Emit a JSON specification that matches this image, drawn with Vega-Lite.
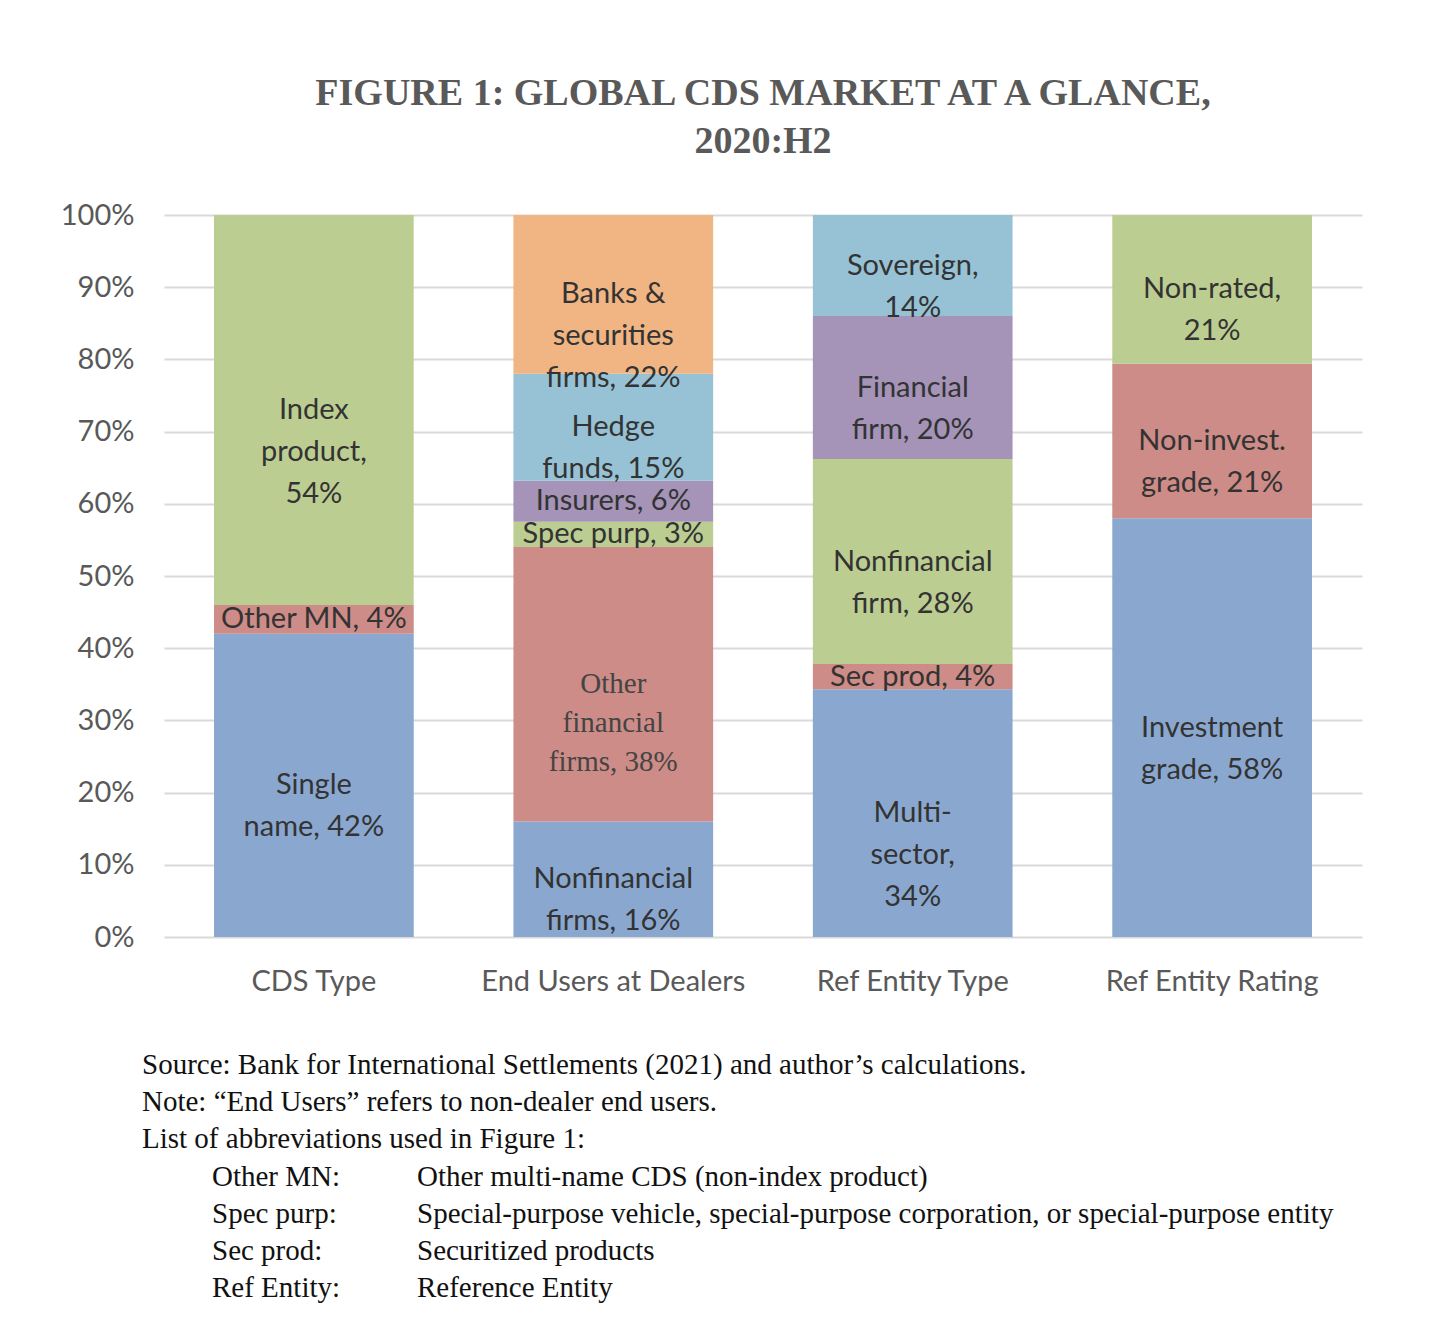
{
"$schema":"https://vega.github.io/schema/vega-lite/v6.json",
"padding":{"left":60,"top":75,"right":30,"bottom":10},
"config":{"view":{"stroke":null},"font":"Lato"},
"vconcat":[
{
"width":1198,"height":722,
"title":{"text":["FIGURE 1: GLOBAL CDS MARKET AT A GLANCE,","2020:H2"],"font":"Liberation Serif","fontSize":38,"fontWeight":"bold","color":"#595959","lineHeight":48,"offset":40,"anchor":"middle","dx":0},
"data":{"values":[
{"cat":"CDS Type","lo":0,"hi":42,"kind":"blue","label":["Single","name, 42%"],"serif":false},
{"cat":"CDS Type","lo":42,"hi":46,"kind":"red","label":["Other  MN, 4%"],"serif":false},
{"cat":"CDS Type","lo":46,"hi":100,"kind":"green","label":["Index","product,","54%"],"serif":false},
{"cat":"End Users at Dealers","lo":0,"hi":16,"kind":"blue","label":["Nonfinancial","firms, 16%"],"serif":false},
{"cat":"End Users at Dealers","lo":16,"hi":54,"kind":"red","label":["Other","financial","firms, 38%"],"serif":true},
{"cat":"End Users at Dealers","lo":54,"hi":57.5,"kind":"green","label":["Spec purp, 3%"],"serif":false},
{"cat":"End Users at Dealers","lo":57.5,"hi":63.2,"kind":"purple","label":["Insurers, 6%"],"serif":false},
{"cat":"End Users at Dealers","lo":63.2,"hi":78,"kind":"teal","label":["Hedge","funds, 15%"],"serif":false},
{"cat":"End Users at Dealers","lo":78,"hi":100,"kind":"orange","label":["Banks &","securities","firms, 22%"],"serif":false},
{"cat":"Ref Entity Type","lo":0,"hi":34.3,"kind":"blue","label":["Multi-","sector,","34%"],"serif":false},
{"cat":"Ref Entity Type","lo":34.3,"hi":37.8,"kind":"red","label":["Sec prod, 4%"],"serif":false},
{"cat":"Ref Entity Type","lo":37.8,"hi":66.2,"kind":"green","label":["Nonfinancial","firm, 28%"],"serif":false},
{"cat":"Ref Entity Type","lo":66.2,"hi":86,"kind":"purple","label":["Financial","firm, 20%"],"serif":false},
{"cat":"Ref Entity Type","lo":86,"hi":100,"kind":"teal","label":["Sovereign,","14%"],"serif":false},
{"cat":"Ref Entity Rating","lo":0,"hi":58,"kind":"blue","label":["Investment","grade, 58%"],"serif":false},
{"cat":"Ref Entity Rating","lo":58,"hi":79.4,"kind":"red","label":["Non-invest.","grade, 21%"],"serif":false},
{"cat":"Ref Entity Rating","lo":79.4,"hi":100,"kind":"green","label":["Non-rated,","21%"],"serif":false}
]},
"transform":[{"calculate":"(datum.lo+datum.hi)/2","as":"mid"}],
"encoding":{"x":{"field":"cat","type":"nominal","sort":null,"scale":{"paddingInner":0.333,"paddingOuter":0.167},
  "axis":{"title":null,"labelAngle":0,"labelFontSize":29,"labelColor":"#595959","labelPadding":30,"labelLimit":0,"ticks":false,"domain":false}}},
"layer":[
{"mark":{"type":"bar"},
 "encoding":{"y":{"field":"lo","type":"quantitative","scale":{"domain":[0,100]},
   "axis":{"title":null,"values":[0,10,20,30,40,50,60,70,80,90,100],"labelExpr":"datum.value+'%'","labelFontSize":29,"labelColor":"#595959","labelPadding":30,"ticks":false,"domain":false,"gridColor":"#d9d9d9","gridWidth":2}},
  "y2":{"field":"hi"},
  "color":{"field":"kind","type":"nominal","legend":null,"scale":{"domain":["blue","red","green","purple","teal","orange"],"range":["#8AA8CF","#CD8C87","#BCCD91","#A593B8","#97C2D5","#F0B583"]}}}},
{"transform":[{"filter":"!datum.serif"}],
 "mark":{"type":"text","fontSize":29,"color":"#333333","lineHeight":42,"baseline":"middle"},
 "encoding":{"y":{"field":"mid","type":"quantitative"},"text":{"field":"label"}}},
{"transform":[{"filter":"datum.serif"}],
 "mark":{"type":"text","fontSize":29,"font":"Liberation Serif","color":"#444444","lineHeight":39,"baseline":"middle"},
 "encoding":{"y":{"field":"mid","type":"quantitative"},"text":{"field":"label"}}}
]
},
{
"width":1350,"height":245,
"data":{"values":[
{"line":0,"col":"a","text":"Source: Bank for International Settlements (2021) and author’s calculations."},
{"line":1,"col":"a","text":"Note: “End Users” refers to non-dealer end users."},
{"line":2,"col":"a","text":"List of abbreviations used in Figure 1:"},
{"line":3,"col":"b","text":"Other MN:"},
{"line":3,"col":"c","text":"Other multi-name CDS (non-index product)"},
{"line":4,"col":"b","text":"Spec purp:"},
{"line":4,"col":"c","text":"Special-purpose vehicle, special-purpose corporation, or special-purpose entity"},
{"line":5,"col":"b","text":"Sec prod:"},
{"line":5,"col":"c","text":"Securitized products"},
{"line":6,"col":"b","text":"Ref Entity:"},
{"line":6,"col":"c","text":"Reference Entity"}
]},
"encoding":{
 "x":{"datum":0,"type":"quantitative","scale":{"domain":[0,1]},"axis":null},
 "y":{"field":"line","type":"ordinal","scale":{"type":"point","padding":0.3},"axis":null},
 "text":{"field":"text"}},
"layer":[
{"transform":[{"filter":"datum.col=='a'"}],"mark":{"type":"text","font":"Liberation Serif","fontSize":29,"align":"left","baseline":"middle","color":"#111111","dx":-22}},
{"transform":[{"filter":"datum.col=='b'"}],"mark":{"type":"text","font":"Liberation Serif","fontSize":29,"align":"left","baseline":"middle","color":"#111111","dx":48}},
{"transform":[{"filter":"datum.col=='c'"}],"mark":{"type":"text","font":"Liberation Serif","fontSize":29,"align":"left","baseline":"middle","color":"#111111","dx":253}}
]
}
],
"spacing":55
}
